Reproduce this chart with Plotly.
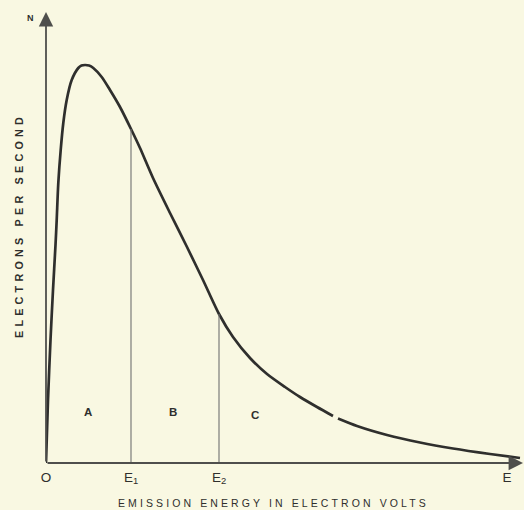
import numpy as np
import plotly.graph_objects as go

# Emission energy (arbitrary units) and electrons per second (arbitrary units)
energy = [0, 0.2, 0.45, 0.7, 0.95, 1.07, 1.23, 1.47, 1.73, 2.07, 2.57, 3.23, 3.55, 3.9, 4.3,
          4.73, 5.57, 6.4, 7.4, 8.5, 9.4, 10.7, 12.4, 14.1, 15.7, 17.3, 18.7, 20.4, 22.1,
          23.9, 25.4, 27.1, 28.7, None, 29.2, 31.1, 34.1, 37.4, 40.7, 44.4, 47.4]
counts = [0, 6.3, 12.3, 17.3, 21.8, 24.3, 28.0, 31.3, 34.0, 36.3, 38.3, 39.5, 39.75, 39.8,
          39.75, 39.5, 38.6, 37.3, 35.6, 33.4, 31.5, 28.5, 25.0, 21.6, 18.3, 14.9, 12.6,
          10.5, 8.9, 7.6, 6.6, 5.6, 4.7, None, 4.45, 3.7, 2.8, 2.05, 1.45, 0.9, 0.5]

tick_values = [0, 8.5, 17.3, 46.1]
tick_labels = ["O", "E<sub>1</sub>", "E<sub>2</sub>", "E"]
boundaries = [8.5, 17.3]
region_names = ["A", "B", "C"]
region_x = [4.2, 12.7, 20.9]
region_y = [5.1, 5.1, 4.8]

X_MAX, Y_MAX = 47.7, 45.1
INK = "#2f2f2d"
AXIS = "#4f4f4c"
BG = "#f9f8e2"
FONT = "Liberation Sans"

ex = np.array([e for e in energy if e is not None])
cy = np.array([c for c in counts if c is not None])

fig = go.Figure()

fig.add_trace(go.Scatter(x=energy, y=counts, mode="lines",
                         line=dict(color=INK, width=2.7, shape="spline", smoothing=0.7),
                         connectgaps=False, hoverinfo="skip", showlegend=False))

for b in boundaries:
    h = float(np.interp(b, ex, cy))
    fig.add_trace(go.Scatter(x=[b, b], y=[0, h], mode="lines",
                             line=dict(color="#707070", width=1.1),
                             hoverinfo="skip", showlegend=False))

for name, rx, ry in zip(region_names, region_x, region_y):
    fig.add_annotation(x=rx, y=ry, text="<b>" + name + "</b>", showarrow=False,
                       font=dict(family=FONT, size=11.5, color=INK), xref="x", yref="y")

# axes with arrows
fig.add_annotation(x=0, y=Y_MAX, ax=0, ay=0, xref="x", yref="y", axref="x", ayref="y",
                   showarrow=True, arrowhead=2, arrowsize=1.6, arrowwidth=1.8,
                   arrowcolor=AXIS, text="")
fig.add_annotation(x=X_MAX, y=0, ax=0, ay=0, xref="x", yref="y", axref="x", ayref="y",
                   showarrow=True, arrowhead=2, arrowsize=1.6, arrowwidth=1.8,
                   arrowcolor=AXIS, text="")


def paper(x, y):
    return x / X_MAX, y / Y_MAX


px_, py_ = paper(-1.6, 44.5)
fig.add_annotation(x=px_, y=py_, text="<b>N</b>", showarrow=False, xref="paper", yref="paper",
                   xanchor="center", yanchor="middle",
                   font=dict(family=FONT, size=9, color=INK))
px_, py_ = paper(-2.7, 23.7)
fig.add_annotation(x=px_, y=py_,
                   text="<b><span style='letter-spacing:4.2px'>ELECTRONS PER SECOND</span></b>",
                   textangle=-90, showarrow=False, xref="paper", yref="paper",
                   xanchor="center", yanchor="middle",
                   font=dict(family=FONT, size=10.8, color=INK))
px_, py_ = paper(22.7, -4.0)
fig.add_annotation(x=px_, y=py_,
                   text="<span style='letter-spacing:3.1px'>EMISSION ENERGY IN ELECTRON VOLTS</span>",
                   showarrow=False, xref="paper", yref="paper",
                   xanchor="center", yanchor="middle",
                   font=dict(family=FONT, size=10.5, color=INK))

fig.update_layout(
    width=524, height=510,
    margin=dict(l=46, r=1, t=12, b=47),
    paper_bgcolor=BG, plot_bgcolor=BG,
    xaxis=dict(range=[0, X_MAX], showgrid=False, zeroline=False, showline=False,
               tickmode="array", tickvals=tick_values, ticktext=tick_labels,
               ticks="", ticklabelstandoff=4,
               tickfont=dict(family=FONT, size=13.5, color=INK)),
    yaxis=dict(range=[0, Y_MAX], showgrid=False, zeroline=False, showline=False,
               showticklabels=False, ticks=""),
)

fig.write_html("out.html",
               config={"displayModeBar": False},
               post_script="document.body.style.margin='0';"
                           "document.body.style.background='#f9f8e2';")
